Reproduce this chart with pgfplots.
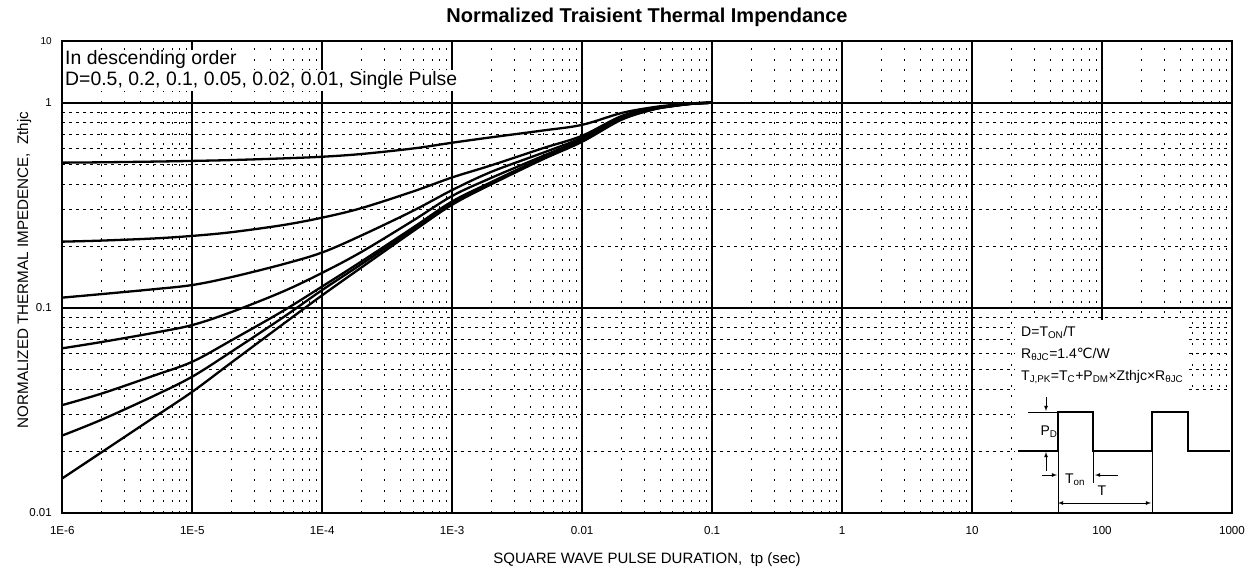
\documentclass[border=0pt]{standalone}
\usepackage{fontspec}
\setmainfont{Liberation Sans}
\newfontfamily\dejavu{DejaVu Sans}
\usepackage{pgfplots}
\pgfplotsset{compat=1.18}
\usepackage{pgfplotstable}

\pgfplotstableread{
x y
1e-6 0.0147
2e-6 0.0197
5e-6 0.0290
1e-5 0.0389
2e-5 0.054
5e-5 0.0832
1e-4 0.115
2e-4 0.157
5e-4 0.236
1e-3 0.318
2e-3 0.400
5e-3 0.530
1e-2 0.645
2e-2 0.825
3.5e-2 0.925
5e-2 0.962
7e-2 0.987
1e-1 1.0
}\single
\pgfplotstableread{
x y
1e-6 0.0238
2e-6 0.0284
5e-6 0.0370
1e-5 0.0461
2e-5 0.061
5e-5 0.0897
1e-4 0.122
2e-4 0.163
5e-4 0.241
1e-3 0.325
2e-3 0.405
5e-3 0.535
1e-2 0.650
2e-2 0.830
3.5e-2 0.927
5e-2 0.964
7e-2 0.988
1e-1 1.0
}\dzeroone
\pgfplotstableread{
x y
1e-6 0.0335
2e-6 0.0381
5e-6 0.0465
1e-5 0.0545
2e-5 0.0693
5e-5 0.0965
1e-4 0.127
2e-4 0.168
5e-4 0.246
1e-3 0.330
2e-3 0.410
5e-3 0.540
1e-2 0.655
2e-2 0.835
3.5e-2 0.929
5e-2 0.965
7e-2 0.989
1e-1 1.0
}\dzerotwo
\pgfplotstableread{
x y
1e-6 0.0634
2e-6 0.068
5e-6 0.0753
1e-5 0.0823
2e-5 0.0952
5e-5 0.120
1e-4 0.148
2e-4 0.187
5e-4 0.266
1e-3 0.351
2e-3 0.430
5e-3 0.550
1e-2 0.665
2e-2 0.842
3.5e-2 0.932
5e-2 0.966
7e-2 0.990
1e-1 1.0
}\dzerofive
\pgfplotstableread{
x y
1e-6 0.112
2e-6 0.1165
5e-6 0.123
1e-5 0.129
2e-5 0.141
5e-5 0.163
1e-4 0.186
2e-4 0.225
5e-4 0.297
1e-3 0.375
2e-3 0.460
5e-3 0.570
1e-2 0.675
2e-2 0.850
3.5e-2 0.935
5e-2 0.968
7e-2 0.990
1e-1 1.0
}\dten
\pgfplotstableread{
x y
1e-6 0.210
2e-6 0.2125
5e-6 0.2176
1e-5 0.224
2e-5 0.2335
5e-5 0.253
1e-4 0.275
2e-4 0.306
5e-4 0.369
1e-3 0.432
2e-3 0.495
5e-3 0.600
1e-2 0.690
2e-2 0.860
3.5e-2 0.940
5e-2 0.970
7e-2 0.991
1e-1 1.0
}\dtwenty
\pgfplotstableread{
x y
1e-6 0.510
2e-6 0.512
5e-6 0.516
1e-5 0.520
2e-5 0.525
5e-5 0.535
1e-4 0.545
2e-4 0.562
5e-4 0.598
1e-3 0.638
2e-3 0.678
5e-3 0.732
1e-2 0.780
2e-2 0.890
3.5e-2 0.950
5e-2 0.975
7e-2 0.993
1e-1 1.0
}\dfifty

\begin{document}
\begin{tikzpicture}
\useasboundingbox (0,0) rectangle (1257pt,571pt);

% upper decade 1..10
\begin{axis}[
  scale only axis, width=1169.7pt, height=61.7pt,
  at={(62.3pt,468.3pt)}, anchor=south west,
  xmode=log, ymode=log,
  xmin=1e-6, xmax=1000, ymin=1, ymax=10,
  axis line style={black, line width=1.6pt},
  major tick length=0pt, minor tick length=0pt,
  xtick={1e-6,1e-5,1e-4,1e-3,1e-2,1e-1,1,10,100,1000},
  minor xtick={2e-6,3e-6,4e-6,5e-6,6e-6,7e-6,8e-6,9e-6,2e-5,3e-5,4e-5,5e-5,6e-5,7e-5,8e-5,9e-5,2e-4,3e-4,4e-4,5e-4,6e-4,7e-4,8e-4,9e-4,2e-3,3e-3,4e-3,5e-3,6e-3,7e-3,8e-3,9e-3,0.02,0.03,0.04,0.05,0.06,0.07,0.08,0.09,0.2,0.3,0.4,0.5,0.6,0.7,0.8,0.9,2,3,4,5,6,7,8,9,20,30,40,50,60,70,80,90,200,300,400,500,600,700,800,900},
  xmajorgrids, xminorgrids,
  major grid style={black, line width=1.6pt},
  minor grid style={black, line width=1pt, dash pattern=on 2pt off 8.5pt},
  ytick={10}, yticklabels={10},
  yticklabel style={xshift=-7pt, font=\fontsize{10}{12}\selectfont},
  xticklabels={},
]
\addplot[draw=none] coordinates {(1,2)};
\end{axis}

% lower decades 0.01..1 : vertical grid and labels
\begin{axis}[
  scale only axis, width=1169.7pt, height=410pt,
  at={(62.3pt,58.3pt)}, anchor=south west,
  xmode=log, ymode=log,
  xmin=1e-6, xmax=1000, ymin=0.01, ymax=1,
  axis line style={black, line width=1.6pt},
  major tick length=0pt, minor tick length=0pt,
  xtick={1e-6,1e-5,1e-4,1e-3,1e-2,1e-1,1,10,100,1000},
  minor xtick={2e-6,3e-6,4e-6,5e-6,6e-6,7e-6,8e-6,9e-6,2e-5,3e-5,4e-5,5e-5,6e-5,7e-5,8e-5,9e-5,2e-4,3e-4,4e-4,5e-4,6e-4,7e-4,8e-4,9e-4,2e-3,3e-3,4e-3,5e-3,6e-3,7e-3,8e-3,9e-3,0.02,0.03,0.04,0.05,0.06,0.07,0.08,0.09,0.2,0.3,0.4,0.5,0.6,0.7,0.8,0.9,2,3,4,5,6,7,8,9,20,30,40,50,60,70,80,90,200,300,400,500,600,700,800,900},
  xmajorgrids, xminorgrids, ymajorgrids,
  major grid style={black, line width=1.6pt},
  minor grid style={black, line width=1pt, dash pattern=on 2pt off 8.5pt},
  ytick={0.01,0.1,1},
  yticklabels={0.01,0.1,1},
  yticklabel style={xshift=-7pt, font=\fontsize{11.5}{13}\selectfont},
  xticklabels={1E-6,1E-5,1E-4,1E-3,0.01,0.1,1,10,100,1000},
  xticklabel style={yshift=-10pt, font=\fontsize{11.6}{13}\selectfont},
]
\addplot[draw=none] coordinates {(1,0.5)};
\end{axis}

% lower decades: horizontal minor grid and curves
\begin{axis}[
  scale only axis, width=1169.7pt, height=410pt,
  at={(62.3pt,58.3pt)}, anchor=south west,
  xmode=log, ymode=log,
  xmin=1e-6, xmax=1000, ymin=0.01, ymax=1,
  axis line style={black, line width=1.6pt},
  major tick length=0pt, minor tick length=0pt,
  clip=false,
  xtick={1e-6,1e-5,1e-4,1e-3,1e-2,1e-1,1,10,100,1000},
  xticklabels={},
  ytick={0.01,0.1,1}, yticklabels={},
  minor ytick={0.02,0.03,0.04,0.05,0.06,0.07,0.08,0.09,0.2,0.3,0.4,0.5,0.6,0.7,0.8,0.9},
  yminorgrids,
  minor grid style={black, line width=1pt, dash pattern=on 2.8pt off 4.2pt},
]
\addplot[black, line width=2.3pt, smooth, tension=0.55] table {\dfifty};
\addplot[black, line width=2.3pt, smooth, tension=0.55] table {\dtwenty};
\addplot[black, line width=2.3pt, smooth, tension=0.55] table {\dten};
\addplot[black, line width=2.3pt, smooth, tension=0.55] table {\dzerofive};
\addplot[black, line width=2.3pt, smooth, tension=0.55] table {\dzerotwo};
\addplot[black, line width=2.3pt, smooth, tension=0.55] table {\dzeroone};
\addplot[black, line width=2.3pt, smooth, tension=0.55] table {\single};
\addplot[black, line width=2.3pt] coordinates {(0.1,1) (1000,1)};
\end{axis}

% title and axis labels
\node[anchor=base, font=\fontsize{20}{24}\selectfont\bfseries] at (647pt,548.5pt) {Normalized Traisient Thermal Impendance};
\node[anchor=base, font=\fontsize{15}{18}\selectfont] at (647pt,8pt) {SQUARE WAVE PULSE DURATION,\ \ tp (sec)};
\node[anchor=base, rotate=90, font=\fontsize{15.2}{18}\selectfont] at (28pt,301pt) {NORMALIZED THERMAL IMPEDENCE,\ \ Zthjc};

% legend text top-left
\node[anchor=base west, fill=white, inner xsep=1pt, inner ysep=1pt, font=\fontsize{19.4}{22}\selectfont] at (64pt,506pt) {In descending order};
\node[anchor=base west, fill=white, inner xsep=1pt, inner ysep=1pt, font=\fontsize{19.4}{22}\selectfont] at (64pt,485.5pt) {D=0.5, 0.2, 0.1, 0.05, 0.02, 0.01, Single Pulse};

% inset boxes
\fill[white] (1015pt,179pt) rectangle (1187pt,251pt);
\fill[white] (1015pt,59.3pt) rectangle (1231pt,179pt);
\begin{scope}[font=\fontsize{14}{16}\selectfont]
\node[anchor=base west, inner sep=0pt] at (1021pt,235pt) {D=T\textsubscript{ON}/T};
\node[anchor=base west, inner sep=0pt] at (1021pt,213pt) {R\textsubscript{θJC}=1.4{\dejavu ℃}/W};
\node[anchor=base west, inner sep=0pt] at (1021pt,191pt) {T\textsubscript{J,PK}=T\textsubscript{C}+P\textsubscript{DM}×Zthjc×R\textsubscript{θJC}};
\end{scope}
% pulse schematic
\draw[black, line width=2.4pt] (1018pt,120pt) -- (1058pt,120pt) -- (1058pt,159pt) -- (1093pt,159pt) -- (1093pt,120pt) -- (1152pt,120pt) -- (1152pt,159pt) -- (1188pt,159pt) -- (1188pt,120pt) -- (1230pt,120pt);
\draw[black, line width=0.8pt] (1028pt,159pt) -- (1058pt,159pt);
\draw[black, line width=0.8pt, -latex] (1046pt,174pt) -- (1046pt,160pt);
\draw[black, line width=0.8pt, -latex] (1046pt,100pt) -- (1046pt,119pt);
\node[font=\fontsize{14}{16}\selectfont] at (1049pt,139pt) {P\textsubscript{D}};
\draw[black, line width=0.8pt, -latex] (1042pt,96pt) -- (1057pt,96pt);
\draw[black, line width=0.8pt, -latex] (1118pt,96pt) -- (1095pt,96pt);
\draw[black, line width=0.8pt] (1058pt,120pt) -- (1058pt,59pt);
\draw[black, line width=0.8pt] (1093pt,120pt) -- (1093pt,88pt);
\draw[black, line width=0.8pt] (1152pt,120pt) -- (1152pt,59pt);
\node[font=\fontsize{14}{16}\selectfont] at (1075pt,91pt) {T\textsubscript{on}};
\draw[black, line width=0.8pt, latex-latex] (1058pt,68pt) -- (1151pt,68pt);
\node[font=\fontsize{14}{16}\selectfont] at (1102pt,80pt) {T};
\end{tikzpicture}
\end{document}
